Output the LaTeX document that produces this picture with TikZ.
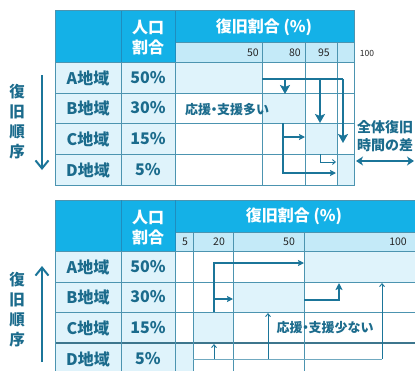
\documentclass[tikz,border=0pt]{standalone}
\usepackage{fontspec}
\setmainfont{Noto Sans CJK JP}
\usetikzlibrary{arrows.meta}
\definecolor{hdr}{HTML}{14B1E7}
\definecolor{subh}{HTML}{C4EAF8}
\definecolor{cellc}{HTML}{DFF3FB}
\definecolor{gridc}{HTML}{4C94B0}
\definecolor{hgrid}{HTML}{1F8DBE}
\definecolor{txt}{HTML}{1B6B8C}
\definecolor{arr}{HTML}{1B7599}
\newcommand{\ndot}{\kern-3.5pt・\kern-3.5pt}
\begin{document}
\begin{tikzpicture}[x=1pt,y=-1pt,
  lab/.style={font=\bfseries\fontsize{16}{16}\selectfont, text=txt, inner sep=0},
  hd/.style={font=\bfseries\fontsize{16}{20}\selectfont, text=white, inner sep=0, align=center},
  num/.style={font=\fontsize{10.5}{11}\selectfont, text=black!85, inner sep=0},
  side/.style={font=\bfseries\fontsize{15.5}{20}\selectfont, text=txt, inner sep=0, align=center},
  gl/.style={draw=gridc, line width=0.9pt},
  hl/.style={draw=hgrid, line width=0.9pt},
  bigarrow/.style={draw=arr, line width=2.8pt, -{Stealth[length=9pt,width=10pt,inset=2pt]}},
  bigline/.style={draw=arr, line width=2.8pt},
  midarrow/.style={draw=arr, line width=1.8pt, -{Stealth[length=6pt,width=6pt,inset=1pt]}},
  midline/.style={draw=arr, line width=1.8pt},
  thinarrow/.style={draw=arr, line width=0.9pt, -{Straight Barb[length=3pt,width=5pt]}},
  thinline/.style={draw=arr, line width=0.9pt},
  orderarrow/.style={draw=arr, line width=2pt, -{Straight Barb[length=8pt,width=13pt]}}
]
\useasboundingbox (0,0) rectangle (415,370);
\begin{scope}
\clip (0,0) rectangle (415,370);
% ================= TOP TABLE =================
\fill[hdr] (55,10) rectangle (354,62);
\fill[subh] (175,42) rectangle (354,62);
\fill[cellc] (55,62) rectangle (175,185);
\fill[cellc] (175,62) rectangle (262,93);
\fill[cellc] (262,93) rectangle (305,123);
\fill[cellc] (305,123) rectangle (337,154);
\fill[cellc] (337,154) rectangle (354,185);
% grid
\foreach \yy in {62,93,123,154,185} \draw[gl] (55,\yy) -- (354,\yy);
\draw[gl] (175,42) -- (354,42);
\draw[hl] (121,10) -- (121,62);
\draw[hl] (175,10) -- (175,62);
\draw[gl] (121,62) -- (121,185);
\draw[gl] (175,62) -- (175,185);
\foreach \xx in {262,305,337} \draw[gl] (\xx,42) -- (\xx,185);
\draw[gl] (55,10) rectangle (354,185);
% header text
\node[hd] (tpop) at (148,38) {人口\\割合};
\node[hd] (trate) at (264,27) {復旧割合 (\%)};
\node[num, anchor=east] (t50) at (259,53) {50};
\node[num, anchor=east] (t80) at (301,53) {80};
\node[num, anchor=east] (t95) at (330,53) {95};
\node[num, font=\fontsize{8.5}{9}\selectfont] (t100) at (367,53) {100};
% rows
\node[lab] (tA) at (88,78) {A地域};
\node[lab] (tB) at (88,108) {B地域};
\node[lab] (tC) at (88,139) {C地域};
\node[lab] (tD) at (88,170) {D地域};
\node[lab] (tpA) at (148,78) {50\%};
\node[lab] (tpB) at (148,108) {30\%};
\node[lab] (tpC) at (148,139) {15\%};
\node[lab] (tpD) at (148,170) {5\%};
\node[lab, font=\bfseries\fontsize{13}{14}\selectfont] (tmany) at (227,110) {応援\ndot 支援多い};
% side
\node[side] (tord) at (17,122) {復\\旧\\順\\序};
\coordinate (tos) at (42,75);
\coordinate (toe) at (42,170);
\draw[orderarrow] (tos) -- (toe);
% thick arrows
\coordinate (k0) at (262,79);
\coordinate (k1) at (285,79);
\coordinate (k1e) at (285,94);
\coordinate (k2) at (320,79);
\coordinate (k2e) at (320,123);
\coordinate (k3) at (343,79);
\coordinate (k3e) at (343,143);
\draw[bigline] (k0) -- (k3);
\draw[bigarrow] (k1) -- (k1e);
\draw[bigarrow] (k2) -- (k2e);
\draw[bigarrow] (k3) -- (k3e);
% medium arrows
\coordinate (m0) at (283,123);
\coordinate (m1) at (283,137);
\coordinate (m1e) at (305,137);
\coordinate (m2) at (283,173);
\coordinate (m2e) at (336,173);
\draw[midarrow] (m0) -- (m2) -- (m2e);
\draw[midarrow] (m1) -- (m1e);
% small arrow
\coordinate (s0) at (320,154);
\coordinate (s1) at (320,162);
\coordinate (s2) at (336,162);
\draw[thinarrow] (s0) -- (s1) -- (s2);
% difference
\node[lab, align=center, font=\bfseries\fontsize{14}{17.5}\selectfont] (tdiff) at (385,136) {全体復旧\\時間の差};
\coordinate (d0) at (356,161);
\coordinate (d1) at (414,161);
\draw[draw=arr, line width=1.8pt, {Stealth[length=7pt,width=9pt,inset=2pt]}-{Stealth[length=7pt,width=9pt,inset=2pt]}] (d0) -- (d1);

% ================= BOTTOM TABLE =================
\fill[hdr] (55,200) rectangle (416,251);
\fill[subh] (175,232) rectangle (416,251);
\fill[cellc] (55,251) rectangle (175,373);
\fill[cellc] (304,251) rectangle (416,282);
\fill[cellc] (233,282) rectangle (304,312);
\fill[cellc] (193,312) rectangle (233,343);
\fill[cellc] (175,343) rectangle (193,373);
\foreach \yy in {251,282,312} \draw[gl] (55,\yy) -- (416,\yy);
\draw[gl, line width=1.4pt, draw=gridc!80!black] (55,343) -- (416,343);
\draw[gl] (175,232) -- (416,232);
\draw[gl] (55,200) -- (416,200);
\draw[gl] (55,200) -- (55,373);
\draw[hl] (121,200) -- (121,251);
\draw[hl] (175,200) -- (175,251);
\draw[gl] (121,251) -- (121,373);
\draw[gl] (175,251) -- (175,373);
\foreach \xx in {193,233,304} \draw[gl] (\xx,232) -- (\xx,373);
% header text
\node[hd] (bpop) at (148,228) {人口\\割合};
\node[hd] (brate) at (294,216) {復旧割合 (\%)};
\node[num] (b5) at (185,242) {5};
\node[num] (b20) at (219,242) {20};
\node[num] (b50) at (289,242) {50};
\node[num] (b100) at (398,242) {100};
% rows
\node[lab] (bA) at (88,267) {A地域};
\node[lab] (bB) at (88,297) {B地域};
\node[lab] (bC) at (88,328) {C地域};
\node[lab] (bD) at (88,359) {D地域};
\node[lab] (bpA) at (148,267) {50\%};
\node[lab] (bpB) at (148,297) {30\%};
\node[lab] (bpC) at (148,328) {15\%};
\node[lab] (bpD) at (148,359) {5\%};
\node[lab, font=\bfseries\fontsize{13}{14}\selectfont] (bfew) at (325,328) {応援\ndot 支援少ない};
% side
\node[side] (bord) at (17,310) {復\\旧\\順\\序};
\coordinate (bos) at (42,362);
\coordinate (boe) at (42,266);
\draw[orderarrow] (bos) -- (boe);
% medium arrows
\coordinate (n0) at (214,312);
\coordinate (n1) at (214,263);
\coordinate (n1e) at (304,263);
\coordinate (n2) at (214,299);
\coordinate (n2e) at (233,299);
\draw[midarrow, line width=1.4pt] (n0) -- (n1) -- (n1e);
\draw[midarrow, line width=1.4pt] (n2) -- (n2e);
% thick arrow
\coordinate (q0) at (304,300);
\coordinate (q1) at (339,300);
\coordinate (q2) at (339,283);
\draw[draw=arr, line width=2.2pt, -{Stealth[length=7pt,width=7pt,inset=1.5pt]}] (q0) -- (q1) -- (q2);
% thin arrows
\coordinate (u0) at (193,359);
\coordinate (u1) at (214,359);
\coordinate (u1e) at (214,344);
\coordinate (u2) at (268,359);
\coordinate (u2e) at (268,313);
\coordinate (u3) at (382,359);
\coordinate (u3e) at (382,283);
\draw[thinline, draw=gridc!80] (u0) -- (u3);
\draw[thinarrow] (u1) -- (u1e);
\draw[thinarrow] (u2) -- (u2e);
\draw[thinarrow] (u3) -- (u3e);
\end{scope}
\end{tikzpicture}
\end{document}
